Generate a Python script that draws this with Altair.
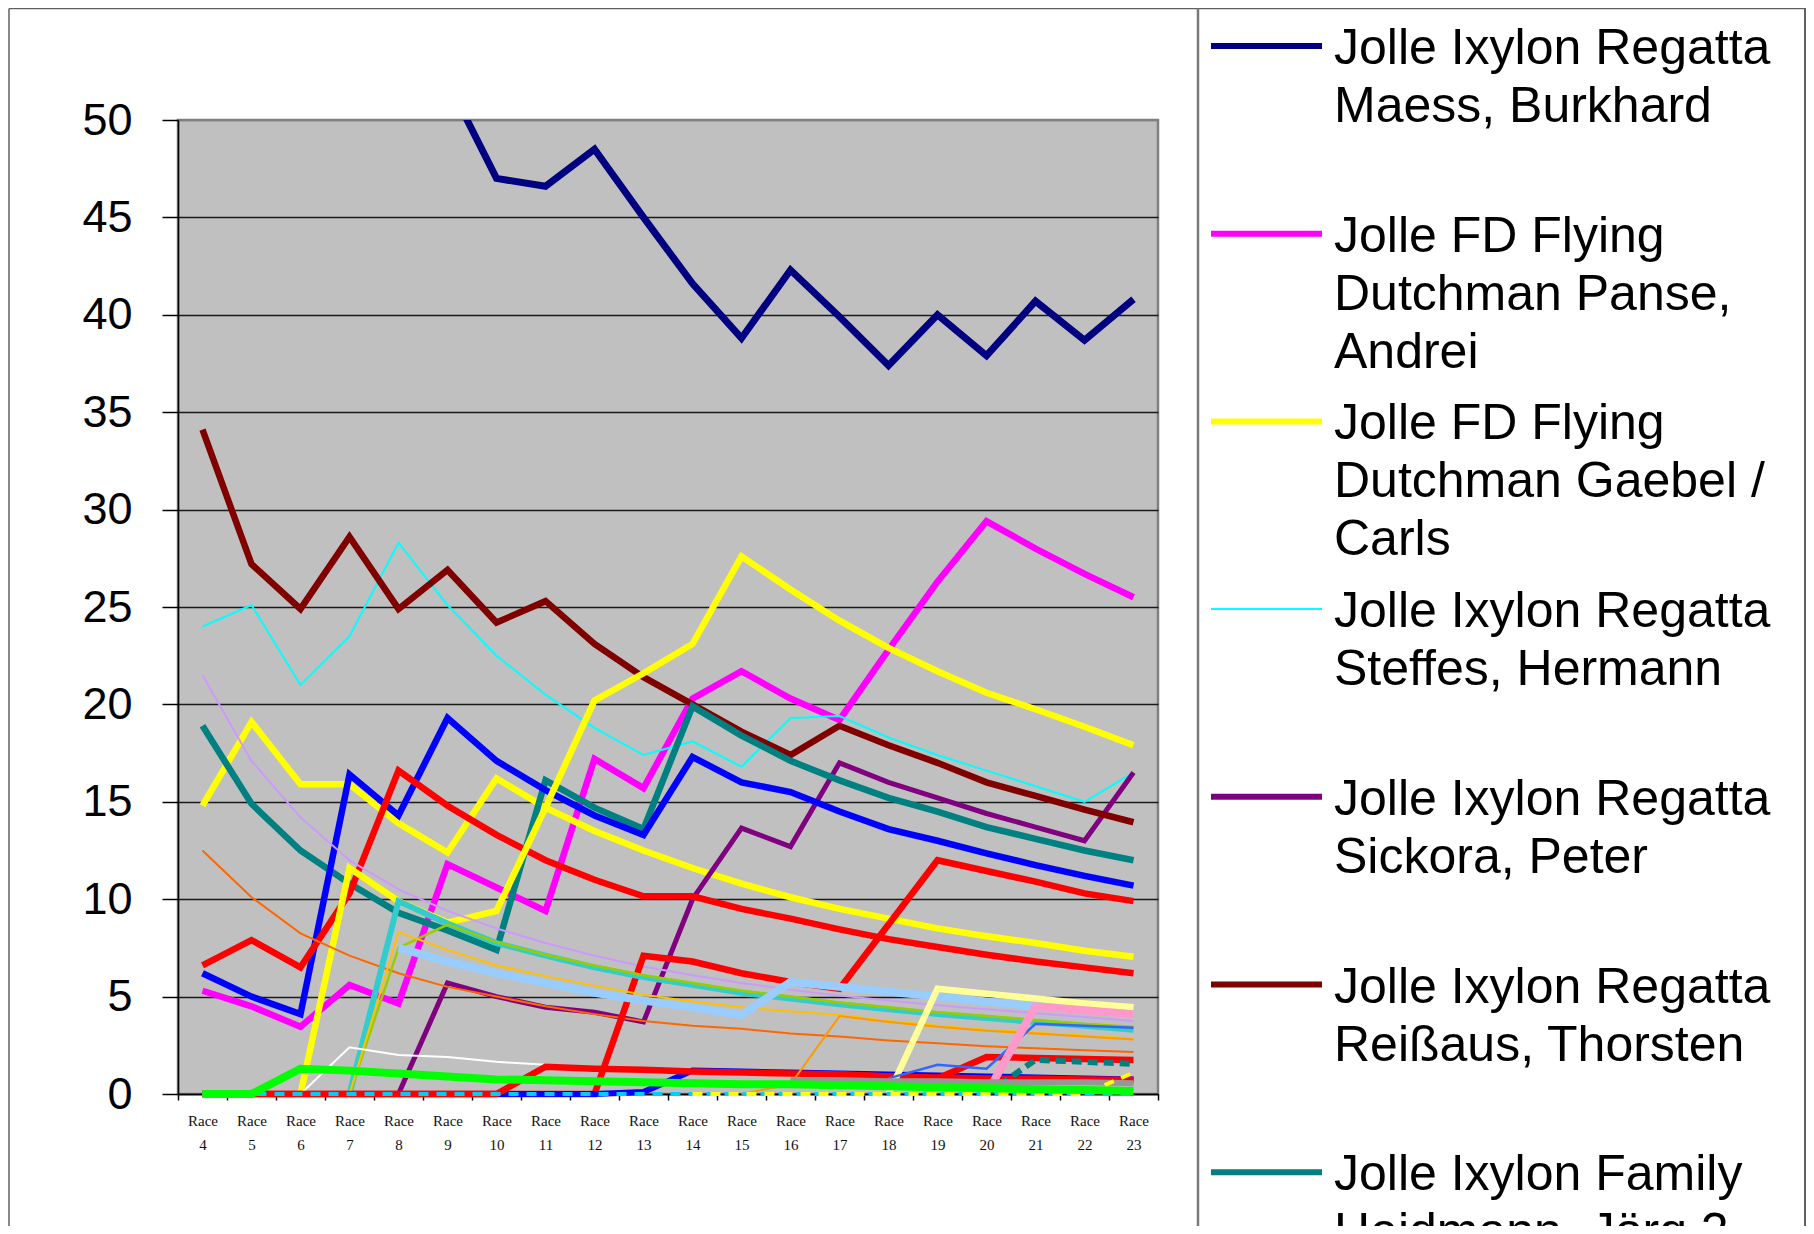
import altair as alt
import pandas as pd

# ---------------- data ----------------
races = ["Race 4", "Race 5", "Race 6", "Race 7", "Race 8", "Race 9", "Race 10",
         "Race 11", "Race 12", "Race 13", "Race 14", "Race 15", "Race 16", "Race 17",
         "Race 18", "Race 19", "Race 20", "Race 21", "Race 22", "Race 23"]

N = None
maess = [N, N, N, N, N, 52.0, 47.0, 46.6, 48.5, 45.0, 41.6, 38.8, 42.3, 39.9, 37.4, 40.0, 37.9, 40.7, 38.7, 40.8]
panse = [5.3, 4.5, 3.45, 5.6, 4.65, 11.8, 10.6, 9.4, 17.2, 15.7, 20.3, 21.7, 20.3, 19.2, 22.8, 26.3, 29.4, 28.0, 26.7, 25.5]
gaebel = [14.8, 19.1, 15.9, 15.9, 13.9, 12.4, 16.2, 14.7, 13.5, 12.5, 11.6, 10.8, 10.1, 9.5, 9.0, 8.5, 8.1, 7.75, 7.35, 7.05]
steffes = [24.0, 25.1, 21.0, 23.5, 28.3, 25.1, 22.5, 20.5, 18.8, 17.4, 18.1, 16.8, 19.3, 19.4, 18.3, 17.4, 16.6, 15.8, 15.0, 16.5]
sickora = [0, 0, 0, 0, 0, 5.7, 5.0, 4.45, 4.2, 3.7, 10.0, 13.65, 12.7, 17.0, 16.0, 15.2, 14.4, 13.7, 13.0, 16.5]
reissaus = [34.1, 27.2, 24.9, 28.6, 24.9, 26.9, 24.2, 25.3, 23.1, 21.4, 20.0, 18.6, 17.4, 18.9, 17.9, 17.0, 16.0, 15.3, 14.6, 13.95]
heidmann = [18.9, 14.9, 12.5, 10.8, 9.3, 8.4, 7.4, 16.1, 14.7, 13.6, 19.9, 18.4, 17.1, 16.1, 15.2, 14.5, 13.7, 13.1, 12.5, 12.0]
blue_a = [6.2, 5.0, 4.1, 16.4, 14.3, 19.3, 17.1, 15.6, 14.3, 13.3, 17.3, 16.0, 15.5, 14.5, 13.6, 13.0, 12.35, 11.75, 11.2, 10.7]
red_a = [6.6, 7.9, 6.5, 10.3, 16.6, 14.8, 13.3, 12.0, 11.0, 10.15, 10.15, 9.5, 9.0, 8.45, 7.95, 7.55, 7.15, 6.8, 6.5, 6.2]
yellow_b = [N, N, 0, 11.6, 9.9, 8.8, 9.4, 14.7, 20.2, 21.6, 23.1, 27.6, 25.9, 24.3, 22.9, 21.7, 20.6, 19.75, 18.85, 17.9]
lavender = [21.5, 17.1, 14.2, 12.0, 10.5, 9.4, 8.5, 7.75, 7.1, 6.55, 6.1, 5.7, 5.35, 5.05, 4.8, 4.55, 4.35, 4.15, 3.95, 3.75]
orange = [12.5, 10.1, 8.25, 7.1, 6.2, 5.5, 5.0, 4.5, 4.1, 3.75, 3.5, 3.35, 3.1, 2.95, 2.75, 2.6, 2.45, 2.35, 2.25, 2.15]
red_b = [0, 0, 0, 0, 0, 0, 0, 0, 0, 7.1, 6.8, 6.2, 5.75, 5.4, 8.7, 12.0, 11.45, 10.9, 10.3, 9.9]
aqua = [0, 0, 0, 0, 9.9, 8.75, 7.75, 7.1, 6.5, 6.0, 5.6, 5.2, 4.9, 4.6, 4.35, 4.1, 3.9, 3.7, 3.5, 3.3]
lime = [0, 0, 0, 0, 7.5, 8.7, 7.8, 7.15, 6.6, 6.1, 5.7, 5.3, 5.0, 4.7, 4.45, 4.2, 4.0, 3.8, 3.6, 3.45]
gold = [0, 0, 0, 0, 8.3, 7.4, 6.6, 6.05, 5.55, 5.1, 4.75, 4.45, 4.25, 4.05, 3.75, 3.5, 3.3, 3.15, 3.0, 2.85]
pale_blue = [N, N, N, N, 7.5, 6.8, 6.2, 5.7, 5.2, 4.8, 4.45, 4.05, 5.75, 5.5, 5.25, 5.0, 4.75, 4.5, 4.3, 4.1]
white = [N, N, 0, 2.4, 2.0, 1.9, 1.65, 1.5, 1.35, 1.25, 1.15, 1.05, 0.95, 0.9, 0.85, 0.8, 0.75, 0.7, 0.65, 0.6]
blue_b = [N, N, N, N, N, N, 0, 0, 0, 0.1, 1.2, 1.15, 1.1, 1.05, 1.0, 0.95, 0.9, 0.85, 0.8, 0.75]
red_c = [0, 0, 0, 0, 0, 0, 0, 1.4, 1.3, 1.25, 1.15, 1.1, 1.05, 1.0, 0.9, 0.8, 1.9, 1.85, 1.8, 1.75]
red_d = [N, N, N, N, N, N, N, N, N, N, N, N, N, 1.0, 0.9, 0.85, 0.8, 0.78, 0.75, 0.72]
light_orange = [N, N, N, N, N, N, N, N, N, N, N, 0, 0.5, 4.0, 3.7, 3.45, 3.25, 3.1, 2.95, 2.8]
light_yellow = [N, N, N, N, N, N, N, N, N, N, N, N, N, N, 0, 5.4, 5.15, 4.9, 4.65, 4.45]
light_blue = [N, N, N, N, N, N, N, N, N, N, N, N, N, N, 0.8, 1.5, 1.3, 3.6, 3.5, 3.4]
pink = [N, N, N, N, N, N, N, N, N, N, N, N, N, N, N, N, 0, 4.5, 4.3, 4.1]
teal_dash = [N, N, N, N, N, N, N, N, N, N, N, N, N, N, N, N, 0, 1.75, 1.65, 1.55]
grey = [N, N, N, N, N, N, N, N, N, N, N, N, 0.7, 0.7, 0.65, 0.65, 0.6, 0.6, 0.6, 0.55]
sky = [0, 0, 0, 0, 0, 0, 0, 0, 0, 0, 0, 0, 0, 0, 0, 0, 0, 0, 0, 0]
yellow_c = [N, N, N, N, N, N, N, N, N, N, 0, 0, 0, 0, 0, 0, 0, 0, 0, 1.1]
green = [0, 0, 1.3, 1.2, 1.05, 0.9, 0.75, 0.7, 0.65, 0.6, 0.55, 0.5, 0.5, 0.45, 0.4, 0.35, 0.3, 0.25, 0.2, 0.15]

series_values = [maess, panse, gaebel, steffes, sickora, reissaus, heidmann, blue_a, red_a,
                 yellow_b, lavender, orange, red_b, aqua, lime, gold, pale_blue, white, blue_b,
                 red_c, red_d, light_orange, light_yellow, light_blue, pink, teal_dash, grey,
                 sky, yellow_c, green]

legend_labels = [
    "Jolle Ixylon Regatta\nMaess, Burkhard",
    "Jolle FD Flying\nDutchman Panse,\nAndrei",
    "Jolle FD Flying\nDutchman Gaebel /\nCarls",
    "Jolle Ixylon Regatta\nSteffes, Hermann",
    "Jolle Ixylon Regatta\nSickora, Peter",
    "Jolle Ixylon Regatta\nReißaus, Thorsten",
    "Jolle Ixylon Family\nHeidmann, Jörg 2",
]

# ---------------- styles ----------------
series_colors = ["#000080", "#FF00FF", "#FFFF00", "#00FFFF", "#800080", "#800000", "#008080",
                 "#0000FF", "#FF0000", "#FFFF00", "#CC99FF", "#FF6600", "#FF0000", "#33CCCC",
                 "#99CC00", "#FFC000", "#99CCFF", "#FFFFFF", "#0000FF", "#FF0000", "#FF0000",
                 "#FF9900", "#FFFF99", "#3366FF", "#FF99CC", "#008080", "#969696", "#00CCFF",
                 "#FFFF00", "#00FF00"]
series_widths = [7, 6.5, 6.5, 2, 5, 6.5, 6.5, 6.5, 6.5, 6.5, 2, 2, 6.5, 6, 2.5, 2, 8, 2, 6,
                 6.5, 6.5, 2, 6.5, 2.5, 8, 6, 6, 4, 4, 8]
series_dash = [None] * 25 + [[10, 6], None, [10, 8], [10, 8], None]

x_axis = alt.Axis(
    title=None, labelExpr="split(datum.label, ' ')", labelFont="Liberation Serif",
    labelFontSize=15, labelColor="#111111", labelLineHeight=24, labelPadding=13,
    labelAngle=0, labelOverlap=False, tickBand="extent", tickSize=6, tickColor="black",
    tickWidth=1.5, domainColor="black", domainWidth=1.5, grid=False,
)
y_axis = alt.Axis(
    title=None, values=[0, 5, 10, 15, 20, 25, 30, 35, 40, 45, 50], labelFont="Liberation Sans",
    labelFontSize=45, labelColor="black", labelPadding=30, labelFlush=False, labelOverlap=False,
    tickSize=16, tickColor="black", tickWidth=1.5, domainColor="black", domainWidth=1.5,
    grid=True, gridWidth=1.5,
    gridColor={"condition": {"test": "datum.value === 50", "value": "#808080"}, "value": "#1a1a1a"},
)

x_scale = alt.Scale(type="band", domain=races, paddingInner=0, paddingOuter=0)
y_scale = alt.Scale(domain=[0, 50], nice=False, zero=False)

line_layers = []
for i, vals in enumerate(series_values):
    df = pd.DataFrame({"race": races, "value": vals}).dropna()
    kw = dict(color=series_colors[i], strokeWidth=series_widths[i], strokeJoin="miter",
              strokeCap="butt")
    if series_dash[i] is not None:
        kw["strokeDash"] = series_dash[i]
    if i == 0:
        kw["clip"] = True
    layer = alt.Chart(df).mark_line(**kw).encode(
        x=alt.X("race:N", sort=races, scale=x_scale, bandPosition=0.5, axis=x_axis),
        y=alt.Y("value:Q", scale=y_scale, axis=y_axis),
    )
    line_layers.append(layer)

lines = alt.layer(*line_layers)

# ---------------- legend ----------------
leg_df = pd.DataFrame({
    "i": list(range(len(legend_labels))),
    "label": legend_labels,
    "name": legend_labels,
})
leg_scale = alt.Scale(domain=[0, 1], range=[-74, 113.7], zero=False, nice=False)
leg_color = alt.Color("name:N", scale=alt.Scale(domain=legend_labels, range=series_colors[:7]), legend=None)

leg_rules = alt.Chart(leg_df).mark_rule().encode(
    x=alt.value(1033), x2=alt.value(1144),
    y=alt.Y("i:Q", scale=leg_scale, axis=None),
    color=leg_color,
    strokeWidth=alt.condition("datum.i === 3", alt.value(2), alt.value(6)),
)
leg_text = alt.Chart(leg_df).mark_text(
    align="left", baseline="alphabetic", lineBreak="\n", lineHeight=58,
    font="Liberation Sans", fontSize=50, dy=18, color="black",
).encode(
    x=alt.value(1156),
    y=alt.Y("i:Q", scale=leg_scale, axis=None),
    text="label:N",
)
legend = alt.layer(leg_rules, leg_text)

# ---------------- frame ----------------
one = pd.DataFrame({"k": [0]})
frame_left = alt.Chart(one).mark_rule(color="#606060", strokeWidth=1.5).encode(
    x=alt.value(-169), y=alt.value(-111.5), y2=alt.value(1120))
frame_top = alt.Chart(one).mark_rule(color="#606060", strokeWidth=1.5).encode(
    x=alt.value(-169), x2=alt.value(1628), y=alt.value(-111.5))
frame_right = alt.Chart(one).mark_rule(color="#606060", strokeWidth=2).encode(
    x=alt.value(1627), y=alt.value(-111.5), y2=alt.value(1120))
legend_box = alt.Chart(one).mark_rule(color="#7a7a7a", strokeWidth=2.5).encode(
    x=alt.value(1020), y=alt.value(-111.5), y2=alt.value(1120))
frame = alt.layer(frame_left, frame_top, frame_right, legend_box)

chart = alt.layer(lines, legend, frame).resolve_scale(
    y="independent", color="independent"
).properties(
    width=980, height=974,
    autosize=alt.AutoSizeParams(type="none"),
    padding={"left": 170, "top": 112, "right": 648, "bottom": 132},
).configure(background="white").configure_view(
    fill="#C0C0C0", stroke="#808080", strokeWidth=2.5
)

chart.save("out.html", embed_options={"renderer": "svg", "actions": False})
